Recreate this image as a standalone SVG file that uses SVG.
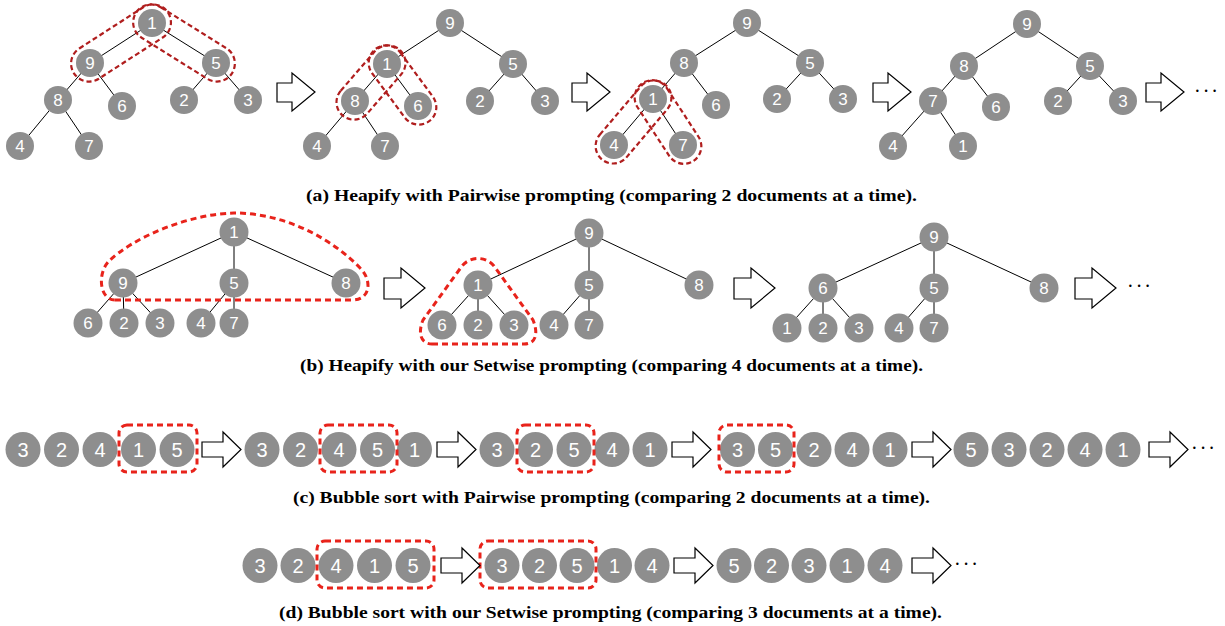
<svg xmlns="http://www.w3.org/2000/svg" width="1225" height="626" viewBox="0 0 1225 626">
<style>
.node circle{fill:#8e8e8e;}
.node text{fill:#fff;font-family:"Liberation Sans",Arial,sans-serif;font-size:17px;text-anchor:middle;dominant-baseline:central;}
.big text{font-size:20px;}
.e line{stroke:#000;stroke-width:1;}
.da{fill:none;stroke:#b01e1e;stroke-width:2.2;stroke-dasharray:5 3;}
.db{fill:none;stroke:#e8231b;stroke-width:3;stroke-dasharray:6 4;}
.ar{fill:#fff;stroke:#000;stroke-width:1.2;stroke-linejoin:miter;}
.cap{font-family:"Liberation Serif","Times New Roman",serif;font-weight:bold;font-size:17px;fill:#000;}
.dots{font-family:"Liberation Serif",serif;font-size:20px;fill:#000;letter-spacing:2px;}
</style>

<!-- connectors -->
<g id="connectors" class="e">
  <!-- a1 -->
  <line x1="152" y1="23" x2="90" y2="63"/><line x1="152" y1="23" x2="216" y2="63"/>
  <line x1="90" y1="63" x2="58" y2="100"/><line x1="90" y1="63" x2="122" y2="106"/>
  <line x1="216" y1="63" x2="184" y2="100"/><line x1="216" y1="63" x2="248" y2="100"/>
  <line x1="58" y1="100" x2="20" y2="146"/><line x1="58" y1="100" x2="89" y2="146"/>
  <!-- a2 -->
  <line x1="450" y1="23" x2="387" y2="64"/><line x1="450" y1="23" x2="513" y2="64"/>
  <line x1="387" y1="64" x2="355" y2="101"/><line x1="387" y1="64" x2="418" y2="106"/>
  <line x1="513" y1="64" x2="480" y2="101"/><line x1="513" y1="64" x2="545" y2="101"/>
  <line x1="355" y1="101" x2="317" y2="146"/><line x1="355" y1="101" x2="385" y2="146"/>
  <!-- a3 -->
  <line x1="747" y1="23" x2="684" y2="63"/><line x1="747" y1="23" x2="810" y2="63"/>
  <line x1="684" y1="63" x2="653" y2="99"/><line x1="684" y1="63" x2="716" y2="105"/>
  <line x1="810" y1="63" x2="777" y2="99"/><line x1="810" y1="63" x2="843" y2="99"/>
  <line x1="653" y1="99" x2="614" y2="145"/><line x1="653" y1="99" x2="683" y2="145"/>
  <!-- a4 -->
  <line x1="1027" y1="24" x2="964" y2="66"/><line x1="1027" y1="24" x2="1090" y2="66"/>
  <line x1="964" y1="66" x2="933" y2="101"/><line x1="964" y1="66" x2="996" y2="107"/>
  <line x1="1090" y1="66" x2="1058" y2="101"/><line x1="1090" y1="66" x2="1123" y2="101"/>
  <line x1="933" y1="101" x2="893" y2="146"/><line x1="933" y1="101" x2="963" y2="146"/>
  <!-- b1 -->
  <line x1="234" y1="232" x2="123" y2="283"/><line x1="234" y1="232" x2="234" y2="283"/><line x1="234" y1="232" x2="346" y2="283"/>
  <line x1="123" y1="283" x2="88" y2="323"/><line x1="123" y1="283" x2="124" y2="323"/><line x1="123" y1="283" x2="160" y2="323"/>
  <line x1="234" y1="283" x2="201" y2="323"/><line x1="234" y1="283" x2="234" y2="323"/>
  <!-- b2 -->
  <line x1="589" y1="233" x2="478" y2="285"/><line x1="589" y1="233" x2="589" y2="285"/><line x1="589" y1="233" x2="699" y2="285"/>
  <line x1="478" y1="285" x2="442" y2="325"/><line x1="478" y1="285" x2="478" y2="325"/><line x1="478" y1="285" x2="514" y2="325"/>
  <line x1="589" y1="285" x2="554" y2="325"/><line x1="589" y1="285" x2="589" y2="325"/>
  <!-- b3 -->
  <line x1="934" y1="237" x2="823" y2="288"/><line x1="934" y1="237" x2="934" y2="288"/><line x1="934" y1="237" x2="1044" y2="288"/>
  <line x1="823" y1="288" x2="787" y2="328"/><line x1="823" y1="288" x2="823" y2="328"/><line x1="823" y1="288" x2="859" y2="328"/>
  <line x1="934" y1="288" x2="899" y2="328"/><line x1="934" y1="288" x2="934" y2="328"/>
</g>

<!-- (a) tree 1 -->
<g id="a1" class="node">
  <g id="a1-n1"><circle cx="152" cy="23" r="14"/><text x="152" y="23">1</text></g>
  <g id="a1-n9"><circle cx="90" cy="63" r="14"/><text x="90" y="63">9</text></g>
  <g id="a1-n5"><circle cx="216" cy="63" r="14"/><text x="216" y="63">5</text></g>
  <g id="a1-n8"><circle cx="58" cy="100" r="14"/><text x="58" y="100">8</text></g>
  <g id="a1-n6"><circle cx="122" cy="106" r="14"/><text x="122" y="106">6</text></g>
  <g id="a1-n2"><circle cx="184" cy="100" r="14"/><text x="184" y="100">2</text></g>
  <g id="a1-n3"><circle cx="248" cy="100" r="14"/><text x="248" y="100">3</text></g>
  <g id="a1-n4"><circle cx="20" cy="146" r="14"/><text x="20" y="146">4</text></g>
  <g id="a1-n7"><circle cx="89" cy="146" r="14"/><text x="89" y="146">7</text></g>
</g>
<!-- (a) tree 2 -->
<g id="a2" class="node">
  <g id="a2-n9"><circle cx="450" cy="23" r="14"/><text x="450" y="23">9</text></g>
  <g id="a2-n1"><circle cx="387" cy="64" r="14"/><text x="387" y="64">1</text></g>
  <g id="a2-n5"><circle cx="513" cy="64" r="14"/><text x="513" y="64">5</text></g>
  <g id="a2-n8"><circle cx="355" cy="101" r="14"/><text x="355" y="101">8</text></g>
  <g id="a2-n6"><circle cx="418" cy="106" r="14"/><text x="418" y="106">6</text></g>
  <g id="a2-n2"><circle cx="480" cy="101" r="14"/><text x="480" y="101">2</text></g>
  <g id="a2-n3"><circle cx="545" cy="101" r="14"/><text x="545" y="101">3</text></g>
  <g id="a2-n4"><circle cx="317" cy="146" r="14"/><text x="317" y="146">4</text></g>
  <g id="a2-n7"><circle cx="385" cy="146" r="14"/><text x="385" y="146">7</text></g>
</g>
<!-- (a) tree 3 -->
<g id="a3" class="node">
  <g id="a3-n9"><circle cx="747" cy="23" r="14"/><text x="747" y="23">9</text></g>
  <g id="a3-n8"><circle cx="684" cy="63" r="14"/><text x="684" y="63">8</text></g>
  <g id="a3-n5"><circle cx="810" cy="63" r="14"/><text x="810" y="63">5</text></g>
  <g id="a3-n1"><circle cx="653" cy="99" r="14"/><text x="653" y="99">1</text></g>
  <g id="a3-n6"><circle cx="716" cy="105" r="14"/><text x="716" y="105">6</text></g>
  <g id="a3-n2"><circle cx="777" cy="99" r="14"/><text x="777" y="99">2</text></g>
  <g id="a3-n3"><circle cx="843" cy="99" r="14"/><text x="843" y="99">3</text></g>
  <g id="a3-n4"><circle cx="614" cy="145" r="14"/><text x="614" y="145">4</text></g>
  <g id="a3-n7"><circle cx="683" cy="145" r="14"/><text x="683" y="145">7</text></g>
</g>
<!-- (a) tree 4 -->
<g id="a4" class="node">
  <g id="a4-n9"><circle cx="1027" cy="24" r="14"/><text x="1027" y="24">9</text></g>
  <g id="a4-n8"><circle cx="964" cy="66" r="14"/><text x="964" y="66">8</text></g>
  <g id="a4-n5"><circle cx="1090" cy="66" r="14"/><text x="1090" y="66">5</text></g>
  <g id="a4-n7"><circle cx="933" cy="101" r="14"/><text x="933" y="101">7</text></g>
  <g id="a4-n6"><circle cx="996" cy="107" r="14"/><text x="996" y="107">6</text></g>
  <g id="a4-n2"><circle cx="1058" cy="101" r="14"/><text x="1058" y="101">2</text></g>
  <g id="a4-n3"><circle cx="1123" cy="101" r="14"/><text x="1123" y="101">3</text></g>
  <g id="a4-n4"><circle cx="893" cy="146" r="14"/><text x="893" y="146">4</text></g>
  <g id="a4-n1"><circle cx="963" cy="146" r="14"/><text x="963" y="146">1</text></g>
</g>

<!-- (a) dashed groupings -->
<g id="a-groups">
  <rect class="da" x="-56" y="-18" width="112" height="36" rx="18" transform="translate(121,43) rotate(-32.8)"/>
  <rect class="da" x="-56.75" y="-18" width="113.5" height="36" rx="18" transform="translate(184,43) rotate(32)"/>
  <rect class="da" x="-43.5" y="-17.5" width="87" height="35" rx="17.5" transform="translate(371,82.5) rotate(-49.1)"/>
  <rect class="da" x="-45" y="-17.5" width="90" height="35" rx="17.5" transform="translate(402.5,85) rotate(53.6)"/>
  <rect class="da" x="-49" y="-17.5" width="98" height="35" rx="17.5" transform="translate(633.5,122) rotate(-49.7)"/>
  <rect class="da" x="-46.5" y="-17.5" width="93" height="35" rx="17.5" transform="translate(668,122) rotate(56.9)"/>
</g>

<!-- (a) arrows -->
<g id="a-arrows">
  <polygon class="ar" points="277,83 292,83 292,73 315,92 292,111 292,102 277,102"/>
  <polygon class="ar" points="572,83 587,83 587,73 610,92 587,111 587,102 572,102"/>
  <polygon class="ar" points="873,83 888,83 888,73 911,92 888,111 888,102 873,102"/>
  <polygon class="ar" points="1146,83 1161,83 1161,73 1184,92 1161,111 1161,102 1146,102"/>
  <text class="dots" x="1194" y="98">···</text>
</g>

<!-- (b) tree 1 -->
<g id="b1" class="node">
  <g id="b1-n1"><circle cx="234" cy="232" r="14.5"/><text x="234" y="232">1</text></g>
  <g id="b1-n9"><circle cx="123" cy="283" r="14.5"/><text x="123" y="283">9</text></g>
  <g id="b1-n5"><circle cx="234" cy="283" r="14.5"/><text x="234" y="283">5</text></g>
  <g id="b1-n8"><circle cx="346" cy="283" r="14.5"/><text x="346" y="283">8</text></g>
  <g id="b1-n6"><circle cx="88" cy="323" r="14.5"/><text x="88" y="323">6</text></g>
  <g id="b1-n2"><circle cx="124" cy="323" r="14.5"/><text x="124" y="323">2</text></g>
  <g id="b1-n3"><circle cx="160" cy="323" r="14.5"/><text x="160" y="323">3</text></g>
  <g id="b1-n4"><circle cx="201" cy="323" r="14.5"/><text x="201" y="323">4</text></g>
  <g id="b1-n7"><circle cx="234" cy="323" r="14.5"/><text x="234" y="323">7</text></g>
</g>
<!-- (b) tree 2 -->
<g id="b2" class="node">
  <g id="b2-n9"><circle cx="589" cy="233" r="14.5"/><text x="589" y="233">9</text></g>
  <g id="b2-n1"><circle cx="478" cy="285" r="14.5"/><text x="478" y="285">1</text></g>
  <g id="b2-n5"><circle cx="589" cy="285" r="14.5"/><text x="589" y="285">5</text></g>
  <g id="b2-n8"><circle cx="699" cy="285" r="14.5"/><text x="699" y="285">8</text></g>
  <g id="b2-n6"><circle cx="442" cy="325" r="14.5"/><text x="442" y="325">6</text></g>
  <g id="b2-n2"><circle cx="478" cy="325" r="14.5"/><text x="478" y="325">2</text></g>
  <g id="b2-n3"><circle cx="514" cy="325" r="14.5"/><text x="514" y="325">3</text></g>
  <g id="b2-n4"><circle cx="554" cy="325" r="14.5"/><text x="554" y="325">4</text></g>
  <g id="b2-n7"><circle cx="589" cy="325" r="14.5"/><text x="589" y="325">7</text></g>
</g>
<!-- (b) tree 3 -->
<g id="b3" class="node">
  <g id="b3-n9"><circle cx="934" cy="237" r="14.5"/><text x="934" y="237">9</text></g>
  <g id="b3-n6"><circle cx="823" cy="288" r="14.5"/><text x="823" y="288">6</text></g>
  <g id="b3-n5"><circle cx="934" cy="288" r="14.5"/><text x="934" y="288">5</text></g>
  <g id="b3-n8"><circle cx="1044" cy="288" r="14.5"/><text x="1044" y="288">8</text></g>
  <g id="b3-n1"><circle cx="787" cy="328" r="14.5"/><text x="787" y="328">1</text></g>
  <g id="b3-n2"><circle cx="823" cy="328" r="14.5"/><text x="823" y="328">2</text></g>
  <g id="b3-n3"><circle cx="859" cy="328" r="14.5"/><text x="859" y="328">3</text></g>
  <g id="b3-n4"><circle cx="899" cy="328" r="14.5"/><text x="899" y="328">4</text></g>
  <g id="b3-n7"><circle cx="934" cy="328" r="14.5"/><text x="934" y="328">7</text></g>
</g>

<!-- (b) dashed groupings -->
<g id="b-groups">
  <path class="db" d="M115,300 L352,300 C370,300 372,282 362,270 C330,236 282,213 234,213 C188,214 132,238 108,262 C97,275 100,300 115,300 Z"/>
  <path class="db" d="M432,344 L524,344 C537,344 538,332 533,320 L494,266 C486,256 470,256 462,266 L423,320 C418,332 420,344 432,344 Z"/>
</g>

<!-- (b) arrows -->
<g id="b-arrows">
  <polygon class="ar" points="384,278 401,278 401,268 425,288 401,308 401,299 384,299"/>
  <polygon class="ar" points="734,278 751,278 751,268 775,288 751,308 751,299 734,299"/>
  <polygon class="ar" points="1075,278 1092,278 1092,268 1116,288 1092,308 1092,299 1075,299"/>
  <text class="dots" x="1127" y="293">···</text>
</g>

<!-- (c) sequences -->
<g id="c" class="node big">
  <g id="c1-3"><circle cx="23" cy="449.5" r="17.5"/><text x="23" y="449.5">3</text></g>
  <g id="c1-2"><circle cx="61.5" cy="449.5" r="17.5"/><text x="61.5" y="449.5">2</text></g>
  <g id="c1-4"><circle cx="100" cy="449.5" r="17.5"/><text x="100" y="449.5">4</text></g>
  <g id="c1-1"><circle cx="138.5" cy="449.5" r="17.5"/><text x="138.5" y="449.5">1</text></g>
  <g id="c1-5"><circle cx="177" cy="449.5" r="17.5"/><text x="177" y="449.5">5</text></g>

  <g id="c2-3"><circle cx="262" cy="449.5" r="17.5"/><text x="262" y="449.5">3</text></g>
  <g id="c2-2"><circle cx="300.5" cy="449.5" r="17.5"/><text x="300.5" y="449.5">2</text></g>
  <g id="c2-4"><circle cx="339" cy="449.5" r="17.5"/><text x="339" y="449.5">4</text></g>
  <g id="c2-5"><circle cx="377.5" cy="449.5" r="17.5"/><text x="377.5" y="449.5">5</text></g>
  <g id="c2-1"><circle cx="414.5" cy="449.5" r="17.5"/><text x="414.5" y="449.5">1</text></g>

  <g id="c3-3"><circle cx="497" cy="449.5" r="17.5"/><text x="497" y="449.5">3</text></g>
  <g id="c3-2"><circle cx="535.5" cy="449.5" r="17.5"/><text x="535.5" y="449.5">2</text></g>
  <g id="c3-5"><circle cx="574" cy="449.5" r="17.5"/><text x="574" y="449.5">5</text></g>
  <g id="c3-4"><circle cx="612" cy="449.5" r="17.5"/><text x="612" y="449.5">4</text></g>
  <g id="c3-1"><circle cx="650" cy="449.5" r="17.5"/><text x="650" y="449.5">1</text></g>

  <g id="c4-3"><circle cx="737.5" cy="449.5" r="17.5"/><text x="737.5" y="449.5">3</text></g>
  <g id="c4-5"><circle cx="775.5" cy="449.5" r="17.5"/><text x="775.5" y="449.5">5</text></g>
  <g id="c4-2"><circle cx="814" cy="449.5" r="17.5"/><text x="814" y="449.5">2</text></g>
  <g id="c4-4"><circle cx="852" cy="449.5" r="17.5"/><text x="852" y="449.5">4</text></g>
  <g id="c4-1"><circle cx="890" cy="449.5" r="17.5"/><text x="890" y="449.5">1</text></g>

  <g id="c5-5"><circle cx="971" cy="449.5" r="17.5"/><text x="971" y="449.5">5</text></g>
  <g id="c5-3"><circle cx="1009" cy="449.5" r="17.5"/><text x="1009" y="449.5">3</text></g>
  <g id="c5-2"><circle cx="1047" cy="449.5" r="17.5"/><text x="1047" y="449.5">2</text></g>
  <g id="c5-4"><circle cx="1085" cy="449.5" r="17.5"/><text x="1085" y="449.5">4</text></g>
  <g id="c5-1"><circle cx="1123" cy="449.5" r="17.5"/><text x="1123" y="449.5">1</text></g>
</g>
<g id="c-groups">
  <rect class="db" x="119" y="425" width="78" height="47" rx="8"/>
  <rect class="db" x="320" y="425" width="77" height="47" rx="8"/>
  <rect class="db" x="517" y="425" width="77" height="47" rx="8"/>
  <rect class="db" x="719" y="425" width="75" height="47" rx="8"/>
</g>
<g id="c-arrows">
  <polygon class="ar" points="202,442 223,442 223,432 241,449.5 223,467 223,457 202,457"/>
  <polygon class="ar" points="437,442 458,442 458,432 476,449.5 458,467 458,457 437,457"/>
  <polygon class="ar" points="672,442 693,442 693,432 711,449.5 693,467 693,457 672,457"/>
  <polygon class="ar" points="912,442 933,442 933,432 951,449.5 933,467 933,457 912,457"/>
  <polygon class="ar" points="1149,442 1170,442 1170,432 1188,449.5 1170,467 1170,457 1149,457"/>
  <text class="dots" x="1191" y="455">···</text>
</g>

<!-- (d) sequences -->
<g id="d" class="node big">
  <g id="d1-3"><circle cx="260" cy="565.5" r="17.5"/><text x="260" y="565.5">3</text></g>
  <g id="d1-2"><circle cx="298" cy="565.5" r="17.5"/><text x="298" y="565.5">2</text></g>
  <g id="d1-4"><circle cx="336" cy="565.5" r="17.5"/><text x="336" y="565.5">4</text></g>
  <g id="d1-1"><circle cx="374.5" cy="565.5" r="17.5"/><text x="374.5" y="565.5">1</text></g>
  <g id="d1-5"><circle cx="413" cy="565.5" r="17.5"/><text x="413" y="565.5">5</text></g>

  <g id="d2-3"><circle cx="502" cy="565.5" r="17.5"/><text x="502" y="565.5">3</text></g>
  <g id="d2-2"><circle cx="539.5" cy="565.5" r="17.5"/><text x="539.5" y="565.5">2</text></g>
  <g id="d2-5"><circle cx="577" cy="565.5" r="17.5"/><text x="577" y="565.5">5</text></g>
  <g id="d2-1"><circle cx="614.5" cy="565.5" r="17.5"/><text x="614.5" y="565.5">1</text></g>
  <g id="d2-4"><circle cx="652" cy="565.5" r="17.5"/><text x="652" y="565.5">4</text></g>

  <g id="d3-5"><circle cx="734" cy="565.5" r="17.5"/><text x="734" y="565.5">5</text></g>
  <g id="d3-2"><circle cx="771.5" cy="565.5" r="17.5"/><text x="771.5" y="565.5">2</text></g>
  <g id="d3-3"><circle cx="809" cy="565.5" r="17.5"/><text x="809" y="565.5">3</text></g>
  <g id="d3-1"><circle cx="847" cy="565.5" r="17.5"/><text x="847" y="565.5">1</text></g>
  <g id="d3-4"><circle cx="885" cy="565.5" r="17.5"/><text x="885" y="565.5">4</text></g>
</g>
<g id="d-groups">
  <rect class="db" x="317" y="541" width="117" height="47" rx="8"/>
  <rect class="db" x="480" y="541" width="116" height="47" rx="8"/>
</g>
<g id="d-arrows">
  <polygon class="ar" points="441,558 462,558 462,548 480,565.5 462,583 462,573 441,573"/>
  <polygon class="ar" points="674,558 695,558 695,548 713,565.5 695,583 695,573 674,573"/>
  <polygon class="ar" points="912,558 933,558 933,548 951,565.5 933,583 933,573 912,573"/>
  <text class="dots" x="954" y="571">···</text>
</g>

<!-- captions -->
<g id="captions">
  <text class="cap" x="306" y="201" textLength="611" lengthAdjust="spacingAndGlyphs">(a) Heapify with Pairwise prompting (comparing 2 documents at a time).</text>
  <text class="cap" x="300" y="371" textLength="623" lengthAdjust="spacingAndGlyphs">(b) Heapify with our Setwise prompting (comparing 4 documents at a time).</text>
  <text class="cap" x="293" y="503" textLength="637" lengthAdjust="spacingAndGlyphs">(c) Bubble sort with Pairwise prompting (comparing 2 documents at a time).</text>
  <text class="cap" x="279" y="618" textLength="663" lengthAdjust="spacingAndGlyphs">(d) Bubble sort with our Setwise prompting (comparing 3 documents at a time).</text>
</g>
</svg>
